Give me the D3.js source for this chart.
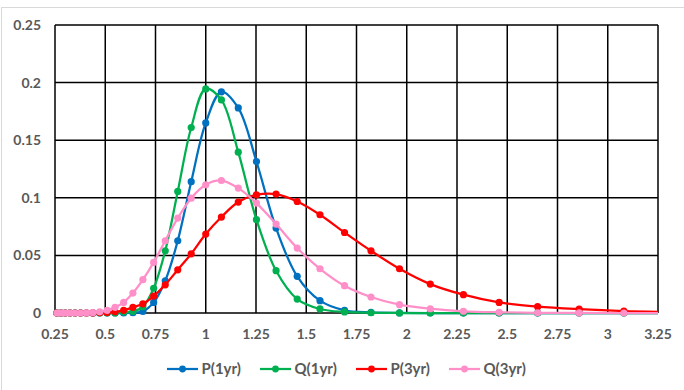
<!DOCTYPE html>
<html>
<head>
  <style>
    body{
      margin:0;
      background:#fff;
    }
    .tick-label{
      font-family: Lato, "Liberation Sans", sans-serif;
      font-weight: bold;
      font-size: 14px;
      fill: #595959;
    }
    .legend-label{
      font-family: Lato, "Liberation Sans", sans-serif;
      font-weight: bold;
      font-size: 15px;
      fill: #595959;
    }
    .grid-line{
      stroke:#000;
      stroke-width:1.5px;
    }
    .series-line{
      fill:none;
      stroke-width:2.25px;
    }
  </style>
  <script src="https://d3js.org/d3.v7.min.js"></script>
</head>
<body>
<div class="chart-container"></div>
<script>
// grid node index k, price level = exp(0.075 k)
const nodeK = [-18,-17,-16,-15,-14,-13,-12,-11,-10,-9,-8,-7,-6,-5,-4,-3,-2,-1,0,1,2,3,4,5,6,7,8,9,10,11,12,13,14,15,16];
const nodeX = [0.2592,0.2795,0.3012,0.3247,0.3499,0.3772,0.4066,0.4382,0.4724,0.5092,0.5488,0.5916,0.6376,0.6873,0.7408,0.7985,0.8607,0.9277,1.0,1.0779,1.1618,1.2523,1.3499,1.4550,1.5683,1.6905,1.8221,1.9640,2.1170,2.2819,2.4596,2.6512,2.8577,3.0802,3.3201];

const p1yr = [0,0,0,0,0,0,0,0,0,0,0,0,0.0002,0.0014,0.0092,0.028,0.0627,0.114,0.165,0.192,0.178,0.1315,0.0737,0.0318,0.0107,0.0023,0.0005,0.0001,0,0,0,0,0,0,0];
const q1yr = [0,0,0,0,0,0,0,0,0,0,0.0001,0.0008,0.0012,0.0055,0.0215,0.054,0.1055,0.161,0.1945,0.185,0.1396,0.081,0.0367,0.0121,0.0035,0.0009,0.0002,0,0,0,0,0,0,0,0];
const p3yr = [0,0,0,0,0,0,0,0.0001,0.0002,0.0004,0.001,0.0023,0.0049,0.008,0.0147,0.0245,0.0375,0.0514,0.0685,0.0833,0.0963,0.1026,0.1032,0.0968,0.0853,0.0699,0.054,0.0384,0.0251,0.0159,0.0092,0.0055,0.0033,0.0017,0.0009];
const q3yr = [0,0,0,0,0,0,0.0001,0.0003,0.001,0.0023,0.0049,0.0092,0.0173,0.0289,0.0439,0.0627,0.0824,0.0997,0.1113,0.115,0.1084,0.0954,0.0772,0.0564,0.0384,0.0237,0.0139,0.0072,0.0037,0.0015,0.0006,0.0002,0.0001,0,0];

const seriesNames = ['P(1yr)','Q(1yr)','P(3yr)','Q(3yr)'];
const seriesColors = ['#0070C0','#00B050','#FF0000','#FF8FC8'];
const seriesValues = [p1yr, q1yr, p3yr, q3yr];

const xTicks = [0.25,0.5,0.75,1,1.25,1.5,1.75,2,2.25,2.5,2.75,3,3.25];
const yTicks = [0,0.05,0.1,0.15,0.2,0.25];

const width = 684;
const height = 390;
const margin = {top:25, right:26, bottom:77, left:55};

const svg = d3.select('.chart-container')
  .append('svg')
  .attr('width', width)
  .attr('height', height);

// outer chart frame
svg.append('rect')
  .attr('x', 1.5).attr('y', 7.5)
  .attr('width', width + 10).attr('height', height + 10)
  .attr('fill', '#fff')
  .attr('stroke', '#d9d9d9');

const x = d3.scaleLinear()
  .domain([0.25, 3.25])
  .range([margin.left, width - margin.right]);

const y = d3.scaleLinear()
  .domain([0, 0.25])
  .range([height - margin.bottom, margin.top]);

// grid
svg.append('g')
  .selectAll('line')
  .data(xTicks)
  .join('line')
  .attr('class', 'grid-line')
  .attr('x1', d=>x(d)).attr('x2', d=>x(d))
  .attr('y1', y(0)).attr('y2', y(0.25));

svg.append('g')
  .selectAll('line')
  .data(yTicks)
  .join('line')
  .attr('class', 'grid-line')
  .attr('x1', x(0.25)).attr('x2', x(3.25))
  .attr('y1', d=>y(d)).attr('y2', d=>y(d));

// tick labels
svg.append('g')
  .selectAll('text')
  .data(xTicks)
  .join('text')
  .attr('class', 'tick-label')
  .attr('x', d=>x(d))
  .attr('y', y(0) + 21)
  .attr('dy', '0.35em')
  .attr('text-anchor', 'middle')
  .text(d=>d);

svg.append('g')
  .selectAll('text')
  .data(yTicks)
  .join('text')
  .attr('class', 'tick-label')
  .attr('x', x(0.25) - 14)
  .attr('y', d=>y(d))
  .attr('dy', '0.35em')
  .attr('text-anchor', 'end')
  .text(d=>d);

// clip so the last node past 3.25 is cut at the plot edge
svg.append('clipPath')
  .attr('id', 'plot-clip')
  .append('rect')
  .attr('x', x(0.25) - 5).attr('y', y(0.25) - 5)
  .attr('width', x(3.25) - x(0.25) + 5)
  .attr('height', y(0) - y(0.25) + 10);

const line = d3.line()
  .x(d=>x(d[0]))
  .y(d=>y(d[1]))
  .curve(d3.curveCatmullRom.alpha(0.5));

const plot = svg.append('g').attr('clip-path', 'url(#plot-clip)');

seriesValues.forEach((values, i)=>{
  const pts = nodeX.map((v, j)=>[v, values[j]]);
  const g = plot.append('g');
  g.append('path')
    .attr('class', 'series-line')
    .attr('stroke', seriesColors[i])
    .attr('d', line(pts));
  g.selectAll('circle')
    .data(pts.filter(d=>d[0] <= 3.25))
    .join('circle')
    .attr('cx', d=>x(d[0]))
    .attr('cy', d=>y(d[1]))
    .attr('r', 3.6)
    .attr('fill', seriesColors[i]);
});

// legend
const legendX = [167, 260, 356, 449];
const legend = svg.append('g');
seriesNames.forEach((name, i)=>{
  const lg = legend.append('g').attr('transform', `translate(${legendX[i]},369)`);
  lg.append('line')
    .attr('x1', 0).attr('x2', 31)
    .attr('stroke', seriesColors[i])
    .attr('stroke-width', 2.25);
  lg.append('circle')
    .attr('cx', 15.5).attr('r', 3.4)
    .attr('fill', seriesColors[i]);
  lg.append('text')
    .attr('class', 'legend-label')
    .attr('x', 34.5)
    .attr('dy', '0.35em')
    .text(name);
});
</script>
</body>
</html>
